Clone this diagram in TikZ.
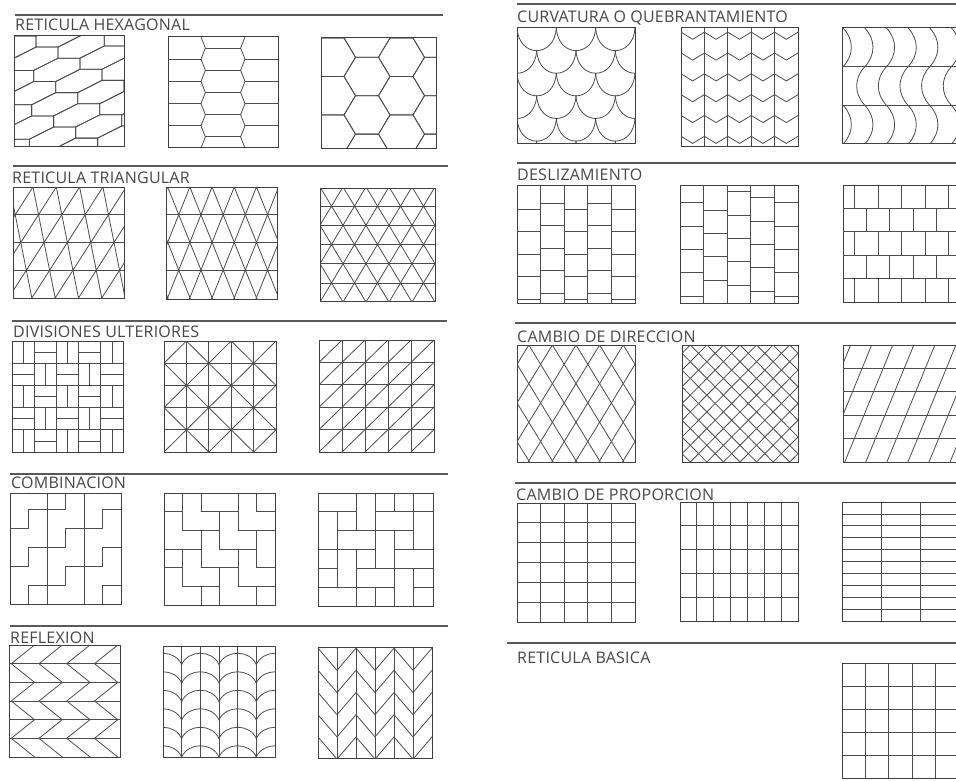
\documentclass[tikz,border=0pt]{standalone}
\usepackage{fontspec}
\newfontfamily\ttlfont[LetterSpace=1.5]{Open Sans}
\usetikzlibrary{calc}
\tikzset{
  pat/.style={line width=0.8pt, draw=black!70, line cap=round, line join=round},
  frame/.style={line width=1pt, draw=black!75},
  secrule/.style={line width=1.3pt, draw=black!65},
  ttl/.style={anchor=base west, inner sep=0pt, text=black!72, font=\ttlfont\fontsize{16}{16}\selectfont},
}
\newcommand\patbox[5]{%
  \begin{scope}[shift={(#1,#2)}, xscale={(#3-#1)/10}, yscale={(#4-#2)/10}]
    \begin{scope}
      \clip (0,0) rectangle (10,10);
      #5
    \end{scope}
    \draw[frame] (0,0) rectangle (10,10);
  \end{scope}}
% ---------- patterns (unit box 0..10, y downward) ----------
\newcommand\pHexA{%
  \foreach \ii in {-5,...,3}{\foreach \jj in {-15,...,8}{%
    \draw[pat] ({4.2*\ii-2*\jj},{-1.1*\ii-\jj}) -- ++(2,0) -- ++(2.2,-1.1) -- ++(0,-1) -- ++(-2,0) -- ++(-2.2,1.1) -- cycle;}}}
\newcommand\pHexB{%
  \foreach \yy in {2,4,6,8}{\draw[pat] (0,\yy) -- (3,\yy) (7,\yy) -- (10,\yy);}
  \foreach \yy in {1,3,5,7,9}{\draw[pat] (3.4,\yy) -- (6.6,\yy);}
  \draw[pat] (3,0) \foreach \yy in {1,3,5,7,9}{ -- (3.4,\yy) -- (3,{\yy+1})};
  \draw[pat] (7,0) \foreach \yy in {1,3,5,7,9}{ -- (6.6,\yy) -- (7,{\yy+1})};}
\newcommand\pHexC{%
  \foreach \ii in {-2,...,2}{\foreach \mm in {-1,...,3}{%
    \pgfmathsetmacro\cx{4+3*\ii}%
    \pgfmathsetmacro\cy{3.464*\mm+1.732*mod(\ii+2,2)}%
    \draw[pat] ({\cx-2},\cy) -- ++(1,-1.732) -- ++(2,0) -- ++(1,1.732) -- ++(-1,1.732) -- ++(-2,0) -- cycle;}}}
\newcommand\pTriA{%
  \foreach \yy in {2.5,5,7.5}{\draw[pat] (0,\yy) -- (10,\yy);}
  \foreach \jj in {-1,...,4}{\foreach \ii in {-2,...,6}{%
    \pgfmathsetmacro\xa{1.8+0.5*\jj+2.1*\ii}%
    \draw[pat] (\xa,{2.5*\jj}) -- ({\xa+0.5},{2.5*\jj+2.5}) -- ({\xa+2.1},{2.5*\jj});}}}
\newcommand\pTriB{%
  \foreach \yy in {2.47,4.94,7.41}{\draw[pat] (0,\yy) -- (10,\yy);}
  \foreach \jj in {-1,...,4}{\foreach \ii in {-1,...,6}{%
    \pgfmathsetmacro\xa{2*\ii+0.15+mod(\jj+2,2)}%
    \draw[pat] ({\xa-1},{2.47*\jj+2.47}) -- (\xa,{2.47*\jj}) -- ({\xa+1},{2.47*\jj+2.47});}}}
\newcommand\pTriC{%
  \foreach \jj in {1,...,5}{\draw[pat] (0,{-0.1+1.7*\jj}) -- (10,{-0.1+1.7*\jj});}
  \foreach \jj in {-1,...,6}{\foreach \ii in {-1,...,6}{%
    \pgfmathsetmacro\xa{2*\ii+mod(\jj+2,2)}%
    \pgfmathsetmacro\ya{-0.1+1.7*\jj}%
    \draw[pat] ({\xa-1},{\ya+1.7}) -- (\xa,\ya) -- ({\xa+1},{\ya+1.7});}}}
\newcommand\gridFive{\foreach \tt in {2,4,6,8}{\draw[pat] (\tt,0) -- (\tt,10) (0,\tt) -- (10,\tt);}}
\newcommand\pDivA{%
  \gridFive
  \foreach \ii in {0,...,4}{\foreach \jj in {0,...,4}{%
    \pgfmathtruncatemacro\pp{mod(\ii+\jj,2)}%
    \ifnum\pp=0 \draw[pat] ({2*\ii+1},{2*\jj}) -- ++(0,2);
    \else \draw[pat] ({2*\ii},{2*\jj+1}) -- ++(2,0); \fi}}}
\newcommand\pDivB{%
  \gridFive
  \foreach \cc in {2,6,10,14,18}{\draw[pat] (\cc,0) -- ({\cc-10},10);}
  \foreach \cc in {-6,-2,2,6}{\draw[pat] (\cc,0) -- ({\cc+10},10);}}
\newcommand\pDivC{%
  \gridFive
  \foreach \cc in {2,4,...,18}{\draw[pat] (\cc,0) -- ({\cc-10},10);}}
\newcommand\pCombA{%
  \draw[pat] (10/3,0) -- (10/3,10) (20/3,0) -- (20/3,10);
  \foreach \ii/\off in {0/0,1/1.7,2/0}{\foreach \mm in {-1,...,2}{%
    \pgfmathsetmacro\xa{10*\ii/3}\pgfmathsetmacro\ya{3.2+3.4*\mm+\off}%
    \draw[pat] (\xa,\ya) -- ++(5/3,0) -- ++(0,-1.7) -- ++(5/3,0);}}}
\newcommand\pCombB{\begin{scope}[scale=10/6]
  \draw[pat] (1,0)--(1,2) (1,3)--(1,5) (2,0)--(2,1) (2,2)--(2,4) (2,5)--(2,6)
    (3,1)--(3,3) (3,4)--(3,6) (4,0)--(4,2) (4,3)--(4,5) (5,0)--(5,1) (5,2)--(5,4) (5,5)--(5,6)
    (0,1)--(1,1) (2,1)--(4,1) (5,1)--(6,1) (1,2)--(3,2) (4,2)--(6,2) (0,3)--(2,3) (3,3)--(5,3)
    (0,4)--(1,4) (2,4)--(4,4) (5,4)--(6,4) (1,5)--(3,5) (4,5)--(6,5);
  \end{scope}}
\newcommand\pCombC{\begin{scope}[scale=10/6]
  \foreach \aa in {-2,...,3}{\foreach \bb in {-2,...,3}{%
    \pgfmathsetmacro\ox{3*\aa-\bb}\pgfmathsetmacro\oy{\aa+3*\bb}%
    \begin{scope}[shift={(\ox,\oy)}]
      \draw[pat] (0,0) rectangle (2,1) (2,0) rectangle (3,2) (1,2) rectangle (3,3)
        (0,1) rectangle (1,3) (1,1) rectangle (2,2);
    \end{scope}}}
  \end{scope}}
\newcommand\pReflA{%
  \foreach \mm in {1,...,5}{\draw[pat] (0,{\mm*10/6}) -- (10,{\mm*10/6});}
  \foreach \ii in {-1,...,4}{%
    \draw[pat] ({2.3+2.5*\ii},0) \foreach \mm in {1,3,5}{ -- ({0.2+2.5*\ii},{\mm*10/6}) -- ({2.3+2.5*\ii},{(\mm+1)*10/6})};}}
\newcommand\pReflB{%
  \foreach \ii in {1,...,5}{\draw[pat] ({\ii*10/6},0) -- ({\ii*10/6},10);}
  \foreach \jj in {0,...,6}{\foreach \ii in {-1,...,3}{%
    \pgfmathsetmacro\xa{5/3+10*\ii/3}\pgfmathsetmacro\ya{10-\jj*10/6}%
    \draw[pat] (\xa,\ya) .. controls ({\xa+0.6},{\ya-1.35}) and ({\xa+10/3-0.6},{\ya-1.35}) .. ({\xa+10/3},\ya);}}}
\newcommand\pReflC{%
  \foreach \ii in {1,...,5}{\draw[pat] ({\ii*10/6},0) -- ({\ii*10/6},10);}
  \foreach \mm in {-1,...,5}{%
    \draw[pat] (0,{0.1+2*\mm}) \foreach \ii in {1,3,5}{ -- ({\ii*10/6},{2.1+2*\mm}) -- ({(\ii+1)*10/6},{0.1+2*\mm})};}}
\newcommand\pCurvA{%
  \foreach \jj in {0,...,5}{\foreach \ii in {-1,...,3}{%
    \pgfmathsetmacro\xa{10*\ii/3+5/3*mod(\jj,2)}\pgfmathsetmacro\ya{1.95*\jj}%
    \draw[pat] (\xa,\ya) .. controls ({\xa+0.15},{\ya+2.6}) and ({\xa+10/3-0.15},{\ya+2.6}) .. ({\xa+10/3},\ya);}}}
\newcommand\pCurvB{%
  \foreach \tt in {2,4,6,8}{\draw[pat] (\tt,0) -- (\tt,10);}
  \foreach \mm in {0,...,5}{\foreach \ii in {0,...,4}{%
    \draw[pat] ({2*\ii},{0.35+1.75*\mm}) -- ({2*\ii+1},{0.95+1.75*\mm}) -- ({2*\ii+2},{0.35+1.75*\mm});}}}
\newcommand\pCurvC{%
  \draw[pat] (0,10/3) -- (10,10/3) (0,20/3) -- (10,20/3);
  \foreach \ii in {0,...,5}{\pgfmathsetmacro\xa{0.1+1.85*\ii}%
    \draw[pat] (\xa,0) .. controls ({\xa+0.93},1) and ({\xa+0.93},{10/3-1}) .. (\xa,10/3)
      .. controls ({\xa-0.93},{10/3+1}) and ({\xa-0.93},{20/3-1}) .. (\xa,20/3)
      .. controls ({\xa+0.93},{20/3+1}) and ({\xa+0.93},9) .. (\xa,10);}}
\newcommand\pDeslA{%
  \foreach \tt in {2,4,6,8}{\draw[pat] (\tt,0) -- (\tt,10);}
  \foreach \ii/\off in {0/2.07,1/1.56,2/2.07,3/1.56,4/2.07}{\foreach \mm in {0,...,4}{%
    \draw[pat] ({2*\ii},{\off+1.9*\mm}) -- ++(2,0);}}}
\newcommand\pDeslB{%
  \foreach \tt in {2,4,6,8}{\draw[pat] (\tt,0) -- (\tt,10);}
  \foreach \ii/\off in {0/1.5,1/2.12,2/0.57,3/1.08,4/1.5}{\foreach \mm in {0,...,4}{%
    \draw[pat] ({2*\ii},{\off+1.98*\mm}) -- ++(2,0);}}}
\newcommand\pDeslC{%
  \foreach \tt in {2,4,6,8}{\draw[pat] (0,\tt) -- (10,\tt);}
  \foreach \jj in {0,2,4}{\foreach \xx in {1,3,5,7,9}{\draw[pat] (\xx,{2*\jj}) -- ++(0,2);}}
  \foreach \jj in {1,3}{\foreach \xx in {2,4,6,8}{\draw[pat] (\xx,{2*\jj}) -- ++(0,2);}}}
\newcommand\pDirA{%
  \foreach \cc in {-7,-5,...,17}{\draw[pat] (\cc,0) -- ({\cc+6.06},10) (\cc,0) -- ({\cc-6.06},10);}}
\newcommand\pDirB{%
  \foreach \ii in {-8,...,15}{\pgfmathsetmacro\cc{0.714+1.4286*\ii}%
    \draw[pat] (\cc,0) -- ({\cc+10},10) (\cc,0) -- ({\cc-10},10);}}
\newcommand\pDirC{%
  \foreach \tt in {2,4,6,8}{\draw[pat] (0,\tt) -- (10,\tt);}
  \foreach \ii in {-3,...,6}{\pgfmathsetmacro\cc{0.15+1.8*\ii}\draw[pat] (\cc,10) -- ({\cc+4.1},0);}}
\newcommand\pPropA{%
  \foreach \tt in {2,4,6,8}{\draw[pat] (\tt,0) -- (\tt,10);}
  \foreach \ii in {1,...,5}{\draw[pat] (0,{\ii*10/6}) -- (10,{\ii*10/6});}}
\newcommand\pPropB{%
  \foreach \ii in {1,...,6}{\draw[pat] ({\ii*10/7},0) -- ({\ii*10/7},10);}
  \foreach \tt in {2,4,6,8}{\draw[pat] (0,\tt) -- (10,\tt);}}
\newcommand\pPropC{%
  \draw[pat] (10/3,0) -- (10/3,10) (20/3,0) -- (20/3,10);
  \foreach \ii in {1,...,9}{\draw[pat] (0,\ii) -- (10,\ii);}}
\begin{document}
\begin{tikzpicture}[x=1pt,y=-1pt]
\useasboundingbox (0,0) rectangle (956,781);
\clip (0,0) rectangle (956,781);
\fill[white] (0,0) rectangle (956,781);
% section rules
\draw[secrule] (15,15) -- (443,15);
\draw[secrule] (13,166) -- (448,166);
\draw[secrule] (12,321) -- (447,321);
\draw[secrule] (10,474) -- (448,474);
\draw[secrule] (10,626) -- (448,626);
\draw[secrule] (517,4) -- (956,4);
\draw[secrule] (517,163) -- (956,163);
\draw[secrule] (515,323) -- (956,323);
\draw[secrule] (515,483) -- (956,483);
\draw[secrule] (507,643) -- (956,643);
% titles
\node[ttl] (t1) at (15,31) {RETICULA HEXAGONAL};
\node[ttl] (t2) at (12,183) {RETICULA TRIANGULAR};
\node[ttl] (t3) at (13,337) {DIVISIONES ULTERIORES};
\node[ttl] (t4) at (11,488) {COMBINACION};
\node[ttl] (t5) at (10,643) {REFLEXION};
\node[ttl] (t6) at (517,23) {CURVATURA O QUEBRANTAMIENTO};
\node[ttl] (t7) at (517,180) {DESLIZAMIENTO};
\node[ttl] (t8) at (517,342) {CAMBIO DE DIRECCION};
\node[ttl] (t9) at (516,500) {CAMBIO DE PROPORCION};
\node[ttl] (t10) at (517,663) {RETICULA BASICA};
% left column
\patbox{14}{36}{124}{147}{\pHexA}
\patbox{168}{37}{278}{148}{\pHexB}
\patbox{321}{38}{436}{149}{\pHexC}
\patbox{13}{187}{124}{298}{\pTriA}
\patbox{166}{187}{277}{299}{\pTriB}
\patbox{320}{188}{435}{301}{\pTriC}
\patbox{12}{341}{123}{452}{\pDivA}
\patbox{164}{341}{276}{452}{\pDivB}
\patbox{319}{340}{434}{452}{\pDivC}
\patbox{10}{493}{121}{604}{\pCombA}
\patbox{164}{493}{275}{605}{\pCombB}
\patbox{318}{493}{433}{606}{\pCombC}
\patbox{9}{645}{120}{757}{\pReflA}
\patbox{163}{646}{275}{757}{\pReflB}
\patbox{318}{647}{432}{758}{\pReflC}
% right column
\patbox{517}{28}{635}{144}{\pCurvA}
\patbox{681}{28}{798}{147}{\pCurvB}
\patbox{842}{28}{959}{144}{\pCurvC}
\patbox{517}{185}{635}{303}{\pDeslA}
\patbox{680}{185}{798}{303}{\pDeslB}
\patbox{843}{185}{960}{302}{\pDeslC}
\patbox{517}{345}{635}{462}{\pDirA}
\patbox{682}{345}{798}{462}{\pDirB}
\patbox{843}{345}{960}{462}{\pDirC}
\patbox{517}{503}{635}{622}{\pPropA}
\patbox{680}{502}{798}{621}{\pPropB}
\patbox{842}{502}{959}{621}{\pPropC}
\patbox{842}{663}{959}{778}{\gridFive}
\end{tikzpicture}
\end{document}
